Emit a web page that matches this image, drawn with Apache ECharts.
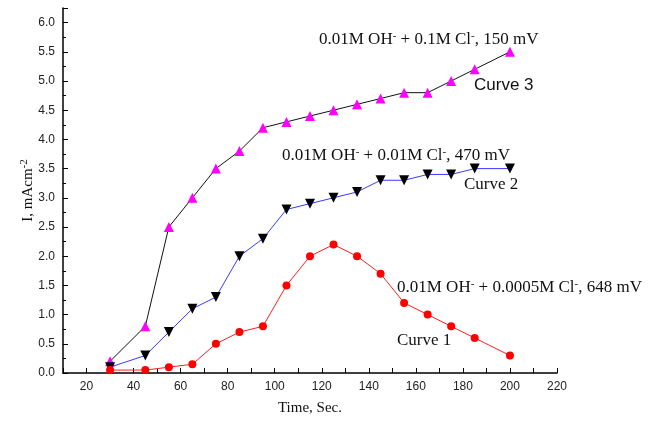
<!DOCTYPE html>
<html><head><meta charset="utf-8">
<script src="https://cdn.jsdelivr.net/npm/echarts@6/dist/echarts.min.js"></script>
<style>html,body{margin:0;padding:0;background:#fff}#c{width:651px;height:423px}</style>
</head><body><div id="c"></div>
<script>
const times = [30, 45, 55, 65, 75, 85, 95, 105, 115, 125, 135, 145, 155, 165, 175, 185, 200];
const curve1 = [0.05, 0.05, 0.1, 0.15, 0.5, 0.7, 0.8, 1.5, 2.0, 2.2, 2.0, 1.7, 1.2, 1.0, 0.8, 0.6, 0.3];
const curve2 = [0.1, 0.3, 0.7, 1.1, 1.3, 2.0, 2.3, 2.8, 2.9, 3.0, 3.1, 3.3, 3.3, 3.4, 3.4, 3.5, 3.5];
const curve3 = [0.2, 0.8, 2.5, 3.0, 3.5, 3.8, 4.2, 4.3, 4.4, 4.5, 4.6, 4.7, 4.8, 4.8, 5.0, 5.2, 5.5];
const xTicks = [20, 40, 60, 80, 100, 120, 140, 160, 180, 200, 220];

const pair = (ys) => times.map((t, i) => [t, ys[i]]);
const serif = '"Liberation Serif", "Times New Roman", serif';
const sans = '"Liberation Sans", Arial, sans-serif';
const supRich = (size) => ({ s: { fontSize: size, fontFamily: serif, verticalAlign: 'top', lineHeight: 18, color: '#111' } });

const chart = echarts.init(document.getElementById('c'));
chart.setOption({
  animation: false,
  backgroundColor: '#fff',
  grid: { left: 63, right: 94, top: 8, bottom: 50 },
  xAxis: {
    type: 'value', min: 10, max: 220, interval: 10,
    name: 'Time, Sec.', nameLocation: 'middle', nameGap: 28,
    nameTextStyle: { fontFamily: serif, fontSize: 15, color: '#111' },
    axisLine: { lineStyle: { color: '#000', width: 1.5 } },
    axisTick: { inside: true, length: 5, lineStyle: { color: '#000' } },
    axisLabel: { fontFamily: sans, fontSize: 12, color: '#222', margin: 8,
      formatter: v => xTicks.indexOf(v) >= 0 ? String(v) : '' },
    splitLine: { show: false }
  },
  yAxis: {
    type: 'value', min: 0, max: 6.25, interval: 0.5,
    name: 'I, mAcm{s|-2}', nameLocation: 'middle', nameGap: 26, nameMoveOverlap: false,
    nameTextStyle: { fontFamily: serif, fontSize: 15, color: '#111', rich: supRich(11) },
    axisLine: { lineStyle: { color: '#000', width: 1.5 } },
    axisTick: { inside: true, length: 5, lineStyle: { color: '#000' } },
    minorTick: { show: true, splitNumber: 2, length: 3, lineStyle: { color: '#000' } },
    axisLabel: { fontFamily: sans, fontSize: 12, color: '#222', margin: 8, showMaxLabel: false,
      formatter: v => v.toFixed(1) },
    splitLine: { show: false }
  },
  series: [
    { type: 'line', data: pair(curve3), symbol: 'triangle', symbolSize: 10,
      lineStyle: { color: '#111', width: 1 }, itemStyle: { color: '#ff00ff' }, z: 2 },
    { type: 'line', data: pair(curve2), symbol: 'triangle', symbolRotate: 180, symbolSize: 10,
      lineStyle: { color: '#3a3aff', width: 1 }, itemStyle: { color: '#000' }, z: 3 },
    { type: 'line', data: pair(curve1), symbol: 'circle', symbolSize: 8,
      lineStyle: { color: '#ff2020', width: 1 }, itemStyle: { color: '#ff0000' }, z: 4 }
  ],
  graphic: [
    { type: 'text', left: 319, top: 31, style: { text: '0.01M OH{s|-} + 0.1M Cl{s|-}, 150 mV', fontFamily: serif, fontSize: 17, fill: '#111', rich: supRich(11) } },
    { type: 'text', left: 474, top: 77, style: { text: 'Curve 3', fontFamily: sans, fontSize: 17, fill: '#111' } },
    { type: 'text', left: 282, top: 147, style: { text: '0.01M OH{s|-} + 0.01M Cl{s|-}, 470 mV', fontFamily: serif, fontSize: 17, fill: '#111', rich: supRich(11) } },
    { type: 'text', left: 464, top: 176, style: { text: 'Curve 2', fontFamily: serif, fontSize: 17, fill: '#111' } },
    { type: 'text', left: 397, top: 279, style: { text: '0.01M OH{s|-} + 0.0005M Cl{s|-}, 648 mV', fontFamily: serif, fontSize: 17, fill: '#111', rich: supRich(11) } },
    { type: 'text', left: 397, top: 332, style: { text: 'Curve 1', fontFamily: serif, fontSize: 17, fill: '#111' } }
  ]
});
</script></body></html>
